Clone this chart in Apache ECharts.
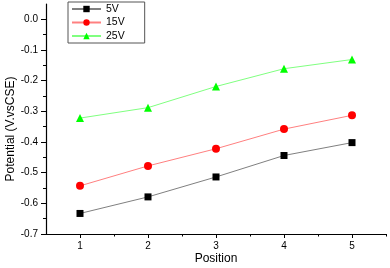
<!DOCTYPE html>
<html><head><meta charset="utf-8">
<script src="https://cdn.jsdelivr.net/npm/echarts@6/dist/echarts.min.js"></script>
<style>html,body{margin:0;padding:0;background:#fff}#c{width:390px;height:268px}</style>
</head><body><div id="c"></div>
<script>
const positions = [1, 2, 3, 4, 5];
const v5 = [-0.633, -0.579, -0.514, -0.444, -0.402];
const v15 = [-0.543, -0.478, -0.422, -0.358, -0.313];
const v25 = [-0.322, -0.288, -0.219, -0.161, -0.131];
const seriesNames = ['5V', '15V', '25V'];
const xTicks = [1, 2, 3, 4, 5];
const xMinorTicks = [1.5, 2.5, 3.5, 4.5, 5.5];
const yTicks = [-0.7, -0.6, -0.5, -0.4, -0.3, -0.2, -0.1, 0.0];
const yMinorTicks = [-0.65, -0.55, -0.45, -0.35, -0.25, -0.15, -0.05];

const font = 'Liberation Sans, Arial, sans-serif';
const pair = arr => positions.map((p, i) => [p, arr[i]]);
const chart = echarts.init(document.getElementById('c'), null, {renderer: 'canvas'});
const xBase = {type: 'value', min: 0.5, max: 5.5, splitLine: {show: false}};
const yBase = {type: 'value', min: -0.7, max: 0.05, splitLine: {show: false}};
chart.setOption({
  animation: false,
  backgroundColor: '#fff',
  grid: {left: 46, top: 4, right: 4, bottom: 34, containLabel: false, outerBoundsMode: 'none'},
  legend: {
    left: 68, top: 2, orient: 'vertical',
    borderColor: '#555', borderWidth: 1, padding: [1.5, 20, 1.5, 3],
    itemGap: 2.5, itemWidth: 29, itemHeight: 8,
    textStyle: {fontFamily: font, fontSize: 10.5, lineHeight: 11, color: '#000'},
    data: seriesNames
  },
  xAxis: [Object.assign({}, xBase, {
    name: 'Position', nameLocation: 'middle', nameGap: 19, nameMoveOverlap: false,
    nameTextStyle: {fontFamily: font, fontSize: 12, color: '#000'},
    axisLine: {show: true, onZero: false, lineStyle: {color: '#000', width: 1.2}},
    axisTick: {show: true, length: 4, customValues: xTicks, lineStyle: {color: '#000', width: 1}},
    axisLabel: {fontFamily: font, fontSize: 10, color: '#000', margin: 7, customValues: xTicks},
  }), Object.assign({}, xBase, {
    position: 'bottom',
    axisLine: {show: false, onZero: false},
    axisTick: {show: true, length: 2.5, customValues: xMinorTicks, lineStyle: {color: '#000', width: 1}},
    axisLabel: {show: false},
  })],
  yAxis: [Object.assign({}, yBase, {
    name: 'Potential (V.vsCSE)', nameLocation: 'middle', nameGap: 29, nameRotate: 90, nameMoveOverlap: false,
    nameTextStyle: {fontFamily: font, fontSize: 12, color: '#000', padding: [0, 0, 0, -20]},
    axisLine: {show: true, onZero: false, lineStyle: {color: '#000', width: 1.2}},
    axisTick: {show: true, length: 5, customValues: yTicks, lineStyle: {color: '#000', width: 1}},
    axisLabel: {fontFamily: font, fontSize: 10, color: '#000', margin: 8, customValues: yTicks,
      formatter: v => v.toFixed(1)},
  }), Object.assign({}, yBase, {
    position: 'left',
    axisLine: {show: false, onZero: false},
    axisTick: {show: true, length: 3, customValues: yMinorTicks, lineStyle: {color: '#000', width: 1}},
    axisLabel: {show: false},
  })],
  series: [
    {name: '5V', type: 'line', data: pair(v5), symbol: 'rect', symbolSize: 7,
      itemStyle: {color: '#000'}, lineStyle: {color: '#808080', width: 1}},
    {name: '15V', type: 'line', data: pair(v15), symbol: 'circle', symbolSize: 8,
      itemStyle: {color: '#ff0000'}, lineStyle: {color: '#ff8080', width: 1}},
    {name: '25V', type: 'line', data: pair(v25), symbol: 'triangle', symbolSize: 8,
      itemStyle: {color: '#00ff00'}, lineStyle: {color: '#80ff80', width: 1}}
  ]
});
</script></body></html>
